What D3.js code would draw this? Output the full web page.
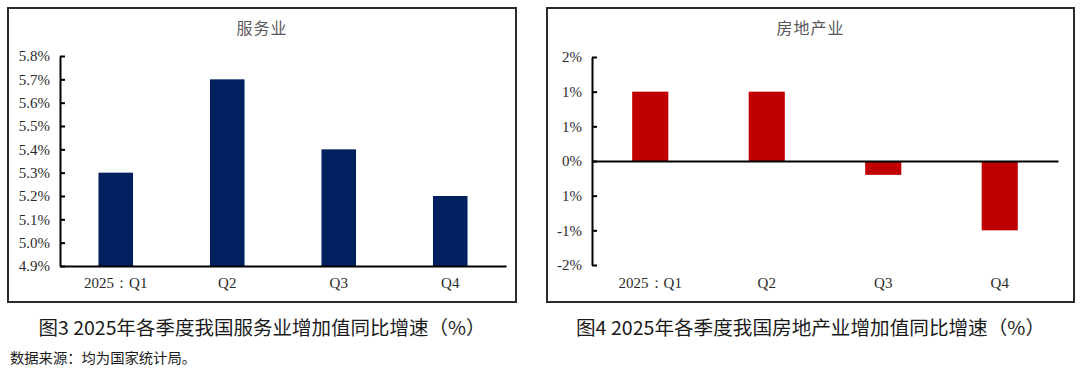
<!DOCTYPE html>
<html>
<head>
<meta charset="utf-8">
<script src="https://cdn.jsdelivr.net/npm/d3@7"></script>
<style>
  html, body { margin: 0; padding: 0; background: #fff; }
  svg { display: block; }
</style>
</head>
<body>
<svg id="chart" width="1080" height="372"></svg>
<script>
// ---- data ----
const categories = ["2025：Q1", "Q2", "Q3", "Q4"];
const servicesTitle = "服务业";
const servicesValues = [5.3, 5.7, 5.4, 5.2];
const servicesTicks = [4.9, 5.0, 5.1, 5.2, 5.3, 5.4, 5.5, 5.6, 5.7, 5.8];
const realEstateTitle = "房地产业";
const realEstateValues = [1.0, 1.0, -0.2, -1.0];
const realEstateTicks = [-1.5, -1.0, -0.5, 0, 0.5, 1.0, 1.5];
const realEstateTickLabels = ["-2%", "-1%", "1%", "0%", "1%", "1%", "2%"];
const captions = ["图3 2025年各季度我国服务业增加值同比增速（%）", "图4 2025年各季度我国房地产业增加值同比增速（%）"];
const sourceNote = "数据来源：均为国家统计局。";

const svg = d3.select("#chart");
const latin = "'Liberation Serif', 'Times New Roman', serif";
const cjk = "'Noto Sans CJK SC', 'Noto Sans', sans-serif";

function panel(cfg) {
  const g = svg.append("g");
  g.append("rect")
    .attr("x", cfg.frame[0]).attr("y", cfg.frame[1])
    .attr("width", cfg.frame[2] - cfg.frame[0]).attr("height", cfg.frame[3] - cfg.frame[1])
    .attr("fill", "#fff").attr("stroke", "#2b2b2b").attr("stroke-width", 2);

  g.append("text")
    .attr("x", (cfg.frame[0] + cfg.frame[2]) / 2).attr("y", 27)
    .attr("text-anchor", "middle").attr("dominant-baseline", "central")
    .attr("font-family", cjk).attr("font-size", 16).attr("letter-spacing", 1)
    .attr("fill", "#595959").text(cfg.title);

  const x = d3.scaleBand().domain(categories).range([cfg.x0, cfg.x1])
    .paddingInner(0.69).paddingOuter(0.345);
  const y = d3.scaleLinear().domain(cfg.domain).range([cfg.yBottom, cfg.yTop]);

  // bars
  g.selectAll("rect.bar").data(cfg.values).enter().append("rect")
    .attr("class", "bar")
    .attr("x", (d, i) => x(categories[i]))
    .attr("width", x.bandwidth())
    .attr("y", d => y(Math.max(d, cfg.base)))
    .attr("height", d => Math.abs(y(d) - y(cfg.base)))
    .attr("fill", cfg.color);

  // y axis
  const yAxis = d3.axisLeft(y).tickValues(cfg.ticks)
    .tickFormat(cfg.tickFormat).tickSizeInner(-5).tickSizeOuter(0).tickPadding(10);
  const ya = g.append("g").attr("transform", `translate(${cfg.x0},0)`).call(yAxis);
  ya.attr("font-family", latin).attr("font-size", 15);
  ya.select(".domain").attr("stroke", "#000").attr("stroke-width", 2);
  ya.selectAll(".tick line").attr("stroke", "#000").attr("stroke-width", 2);
  ya.selectAll(".tick text").attr("font-family", latin).attr("font-size", 15).attr("fill", "#2a2a2a");

  // x baseline
  const xAxis = d3.axisBottom(x).tickSize(0).tickFormat("");
  const xa = g.append("g").attr("transform", `translate(0,${y(cfg.base)})`).call(xAxis);
  xa.select(".domain").attr("stroke", "#000").attr("stroke-width", 2);

  // category labels
  g.selectAll("text.cat").data(categories).enter().append("text")
    .attr("class", "cat")
    .attr("x", d => x(d) + x.bandwidth() / 2).attr("y", 283)
    .attr("text-anchor", "middle").attr("dominant-baseline", "central")
    .attr("font-family", latin).attr("font-size", 15).attr("fill", "#2a2a2a")
    .text(d => d);

  // caption
  svg.append("text")
    .attr("x", (cfg.frame[0] + cfg.frame[2]) / 2).attr("y", 326)
    .attr("text-anchor", "middle").attr("dominant-baseline", "central")
    .attr("font-family", cjk).attr("font-size", 19).attr("fill", "#1a1a1a")
    .attr("textLength", cfg.captionWidth).attr("lengthAdjust", "spacingAndGlyphs")
    .text(cfg.caption);
}

panel({
  frame: [8, 8, 516, 302], title: servicesTitle, values: servicesValues,
  x0: 60, x1: 506, yTop: 56, yBottom: 266, domain: [4.9, 5.8], base: 4.9,
  ticks: servicesTicks, tickFormat: d => d.toFixed(1) + "%", color: "#002060",
  caption: captions[0], captionWidth: 447
});

panel({
  frame: [547, 8, 1074, 302], title: realEstateTitle, values: realEstateValues,
  x0: 592, x1: 1058, yTop: 57, yBottom: 265, domain: [-1.5, 1.5], base: 0,
  ticks: realEstateTicks, tickFormat: (d, i) => realEstateTickLabels[i], color: "#C00000",
  caption: captions[1], captionWidth: 469
});

svg.append("text")
  .attr("x", 10).attr("y", 357)
  .attr("dominant-baseline", "central")
  .attr("font-family", cjk).attr("font-size", 14).attr("fill", "#1a1a1a")
  .attr("textLength", 186).attr("lengthAdjust", "spacingAndGlyphs")
  .text(sourceNote);
</script>
</body>
</html>
